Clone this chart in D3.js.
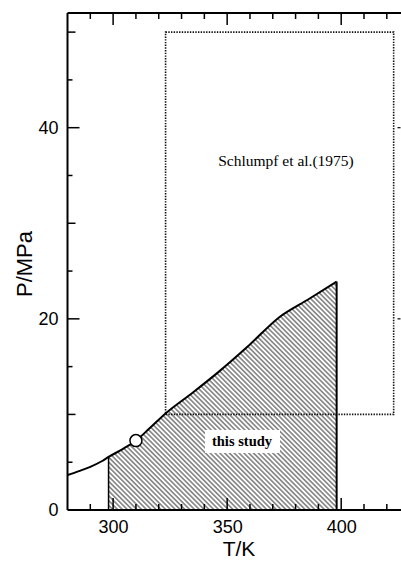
<!DOCTYPE html>
<html>
<head>
<meta charset="utf-8">
<script src="https://cdn.jsdelivr.net/npm/d3@7"></script>
<style>
  html, body { margin: 0; padding: 0; background: #fff; }
  svg { display: block; }
</style>
</head>
<body>
<svg id="chart" width="401" height="561"></svg>
<script>
// ---- data ----
const boundaryT = [280, 285, 290, 295, 298, 304, 310, 316, 323, 335, 346, 359, 373, 386, 398];
const boundaryP = [3.66, 4.07, 4.52, 5.1, 5.55, 6.35, 7.26, 8.55, 10.1, 12.3, 14.4, 17.1, 20.2, 22.1, 23.9];
const studyRangeT = [298, 398];
const schlumpfT = [323, 423];
const schlumpfP = [10, 50];
const pointT = [310];
const pointP = [7.26];
const xTickValues = [290, 300, 310, 320, 330, 340, 350, 360, 370, 380, 390, 400, 410, 420];
const xLabelValues = [300, 350, 400];
const yTickValues = [5, 10, 15, 20, 25, 30, 35, 40, 45, 50];
const yLabelValues = [0, 20, 40];
const xDomain = [280, 426];
const yDomain = [0, 52];

// ---- setup ----
const svg = d3.select("#chart");
const L = 67.5, R = 400.5, T = 13, B = 510;
const x = d3.scaleLinear().domain(xDomain).range([L, R]);
const y = d3.scaleLinear().domain(yDomain).range([B, T]);

const defs = svg.append("defs");
defs.append("pattern")
  .attr("id", "hatch")
  .attr("patternUnits", "userSpaceOnUse")
  .attr("width", 3.4).attr("height", 3.4)
  .attr("patternTransform", "rotate(45)")
  .append("line")
  .attr("x1", 0).attr("y1", 1.7).attr("x2", 3.4).attr("y2", 1.7)
  .attr("stroke", "#222").attr("stroke-width", 0.9);

const pts = boundaryT.map((t, i) => ({ t, p: boundaryP[i] }));

// hatched area (this study)
const inside = pts.filter(d => d.t >= studyRangeT[0] && d.t <= studyRangeT[1]);
const area = d3.area().x(d => x(d.t)).y0(y(0)).y1(d => y(d.p)).curve(d3.curveMonotoneX);
svg.append("path").datum(inside).attr("d", area).attr("fill", "url(#hatch)");

// white box behind "this study"
svg.append("rect").attr("x", 205).attr("y", 430).attr("width", 75).attr("height", 23).attr("fill", "#fff");
svg.append("text").attr("x", 242).attr("y", 446)
  .attr("text-anchor", "middle")
  .attr("font-family", "Liberation Serif, Times New Roman, serif")
  .attr("font-weight", "bold").attr("font-size", 14.5)
  .text("this study");

// Schlumpf dotted rectangle
svg.append("rect")
  .attr("x", x(schlumpfT[0])).attr("y", y(schlumpfP[1]))
  .attr("width", x(schlumpfT[1]) - x(schlumpfT[0]))
  .attr("height", y(schlumpfP[0]) - y(schlumpfP[1]))
  .attr("fill", "none").attr("stroke", "#111").attr("stroke-width", 1.6)
  .attr("stroke-dasharray", "1.4,1.3");
svg.append("text").attr("x", 286).attr("y", 166)
  .attr("text-anchor", "middle")
  .attr("font-family", "Liberation Serif, Times New Roman, serif")
  .attr("font-size", 15.5)
  .text("Schlumpf et al.(1975)");

// boundary curve
const line = d3.line().x(d => x(d.t)).y(d => y(d.p)).curve(d3.curveMonotoneX);
svg.append("path").datum(pts).attr("d", line)
  .attr("fill", "none").attr("stroke", "#000").attr("stroke-width", 2);

// vertical limits of study
studyRangeT.forEach((t, i) => {
  const p = boundaryP[boundaryT.indexOf(t)];
  svg.append("line").attr("x1", x(t)).attr("x2", x(t)).attr("y1", y(0)).attr("y2", y(p))
    .attr("stroke", "#000").attr("stroke-width", i === 0 ? 1.5 : 2);
});

// point
svg.append("circle").attr("cx", x(pointT[0])).attr("cy", y(pointP[0])).attr("r", 6)
  .attr("fill", "#fff").attr("stroke", "#000").attr("stroke-width", 1.5);

// ---- axes ----
const ax = svg.append("g").attr("stroke", "#000");
ax.append("line").attr("x1", L).attr("x2", L).attr("y1", T).attr("y2", B).attr("stroke-width", 2);
ax.append("line").attr("x1", L).attr("x2", R + 1).attr("y1", B).attr("y2", B).attr("stroke-width", 2);
ax.append("line").attr("x1", L).attr("x2", R + 1).attr("y1", T).attr("y2", T).attr("stroke-width", 2);

xTickValues.forEach(v => {
  const len = xLabelValues.includes(v) ? 12 : 6;
  ax.append("line").attr("x1", x(v)).attr("x2", x(v)).attr("y1", B).attr("y2", B - len).attr("stroke-width", 1.5);
  ax.append("line").attr("x1", x(v)).attr("x2", x(v)).attr("y1", T).attr("y2", T + len).attr("stroke-width", 1.5);
});
yTickValues.forEach(v => {
  const len = yLabelValues.includes(v) ? 12 : (v % 10 === 0 ? 8 : 5);
  ax.append("line").attr("x1", L).attr("x2", L + len).attr("y1", y(v)).attr("y2", y(v)).attr("stroke-width", 1.5);
});
yLabelValues.filter(v => v > 0).forEach(v => {
  ax.append("line").attr("x1", R).attr("x2", R - 3).attr("y1", y(v)).attr("y2", y(v)).attr("stroke-width", 1.2);
});

// tick labels via d3 axes (no lines)
const xAxis = d3.axisBottom(x).tickValues(xLabelValues).tickSize(0).tickPadding(0).tickFormat(d3.format("d"));
const gx = svg.append("g").attr("transform", `translate(0,${B + 10})`).call(xAxis);
gx.select(".domain").remove();
gx.selectAll("text").attr("font-family", "Liberation Sans, Arial, sans-serif").attr("font-size", 18).attr("fill", "#000");

const yAxis = d3.axisLeft(y).tickValues(yLabelValues).tickSize(0).tickPadding(0).tickFormat(d3.format("d"));
const gy = svg.append("g").attr("transform", `translate(${L - 9},0)`).call(yAxis);
gy.select(".domain").remove();
gy.selectAll("text").attr("font-family", "Liberation Sans, Arial, sans-serif").attr("font-size", 18).attr("fill", "#000");

// axis titles
svg.append("text").attr("x", 239).attr("y", 556).attr("text-anchor", "middle")
  .attr("font-family", "Liberation Sans, Arial, sans-serif").attr("font-size", 21)
  .text("T/K");
svg.append("text").attr("transform", "translate(32,264) rotate(-90)").attr("text-anchor", "middle")
  .attr("font-family", "Liberation Sans, Arial, sans-serif").attr("font-size", 22)
  .text("P/MPa");
</script>
</body>
</html>
